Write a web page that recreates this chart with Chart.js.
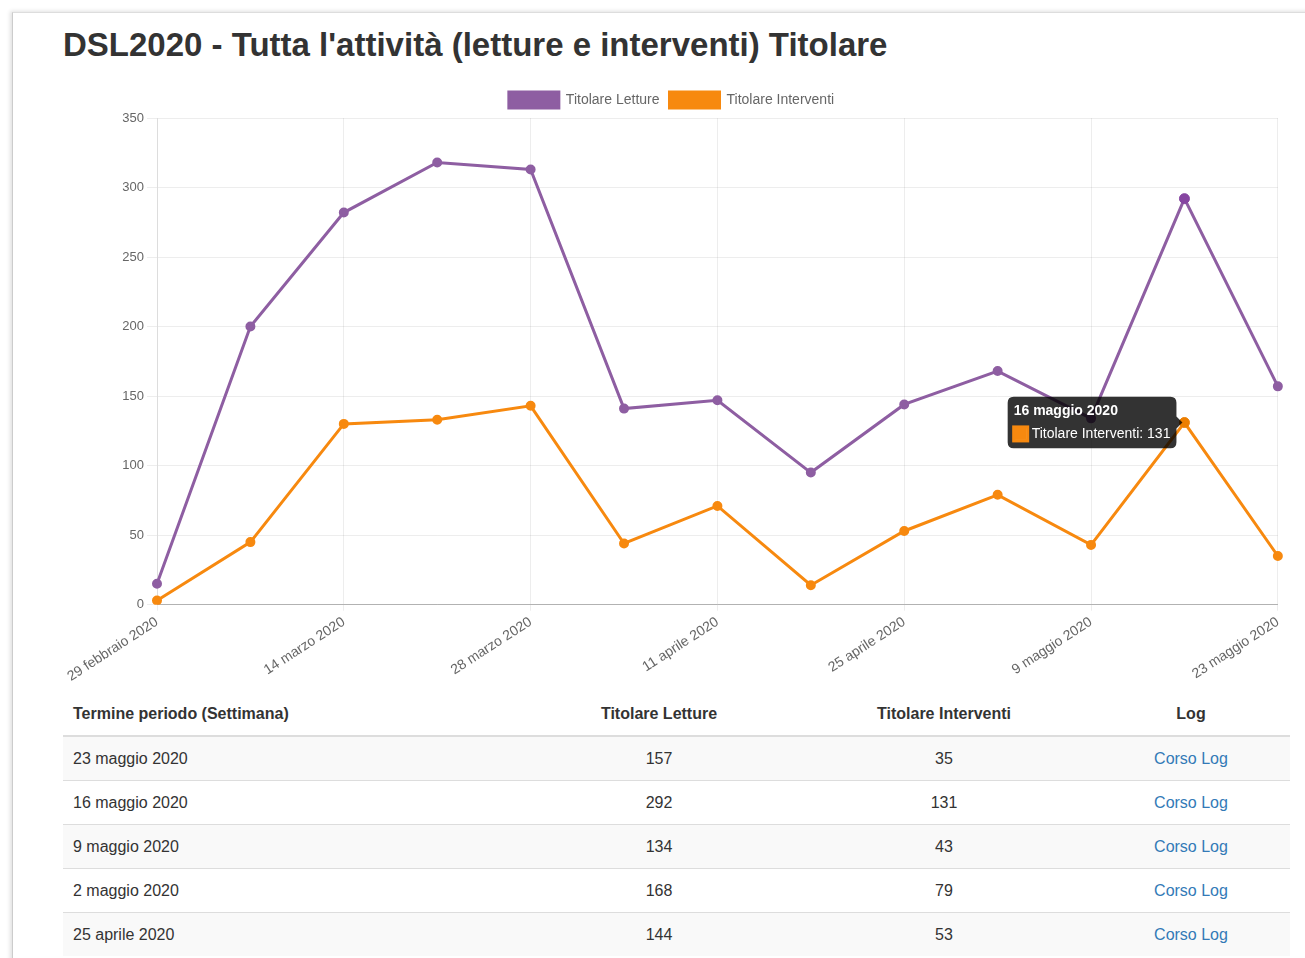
<!DOCTYPE html>
<html>
<head>
<meta charset="utf-8">
<script src="https://cdn.jsdelivr.net/npm/chart.js@4.4.0/dist/chart.umd.min.js"></script>
<style>
	body { margin: 0; background: #fff; font-family: "Liberation Sans", Arial, sans-serif; color: #333; }
	.panel { position: absolute; left: 12px; top: 12px; width: 1320px; height: 980px; border-left: 1px solid #ccc; border-top: 1px solid #ddd; box-shadow: -2px -1px 4px rgba(0,0,0,0.12); }
	h1 { position: absolute; left: 63px; top: 26px; margin: 0; font-size: 33px; font-weight: bold; color: #333; }
	.chart-box { position: absolute; left: 63px; top: 82px; width: 1227px; height: 606px; }
	table { position: absolute; left: 63px; top: 692px; width: 1227px; border-collapse: collapse; font-size: 16px; }
	th, td { padding: 0 10px; height: 43px; border-top: 1px solid #ddd; }
	th { border-top: none; border-bottom: 2px solid #ddd; font-weight: bold; }
	tbody tr:nth-child(odd) td { background: #f9f9f9; }
	a { color: #337ab7; text-decoration: none; }
</style>
</head>
<body>
<div class="panel"></div>
<h1>DSL2020 - Tutta l'attività (letture e interventi) Titolare</h1>
<div class="chart-box"><canvas id="activityChart"></canvas></div>
<table>
	<thead>
		<tr>
			<th style="width:439px;text-align:left">Termine periodo (Settimana)</th>
			<th style="width:254px;text-align:center">Titolare Letture</th>
			<th style="width:276px;text-align:center">Titolare Interventi</th>
			<th style="text-align:center">Log</th>
		</tr>
	</thead>
	<tbody id="tableBody"></tbody>
</table>
<script>
const weeks = [
	"29 febbraio 2020", "7 marzo 2020", "14 marzo 2020", "21 marzo 2020", "28 marzo 2020",
	"4 aprile 2020", "11 aprile 2020", "18 aprile 2020", "25 aprile 2020", "2 maggio 2020",
	"9 maggio 2020", "16 maggio 2020", "23 maggio 2020"
];
const letture = [15, 200, 282, 318, 313, 141, 147, 95, 144, 168, 134, 292, 157];
const interventi = [3, 45, 130, 133, 143, 44, 71, 14, 53, 79, 43, 131, 35];
const tableRows = 5;

const purple = "#8e5ea2";
const orange = "#f7890f";

window.addEventListener('DOMContentLoaded', (event) => {
	const tbody = document.getElementById("tableBody");
	for (let i = weeks.length - 1; i >= weeks.length - tableRows; i--) {
		const tr = document.createElement("tr");
		tr.innerHTML = `<td>${weeks[i]}</td><td style="text-align:center">${letture[i]}</td>` +
			`<td style="text-align:center">${interventi[i]}</td><td style="text-align:center"><a href="#">Corso Log</a></td>`;
		tbody.appendChild(tr);
	}

	Chart.defaults.font.family = "'Liberation Sans', Arial, sans-serif";
	Chart.defaults.color = "#666";

	const ctx = document.getElementById("activityChart");
	const chart = new Chart(ctx, {
		type: 'line',
		data: {
			labels: weeks,
			datasets: [{
				label: 'Titolare Letture',
				data: letture,
				borderColor: purple,
				backgroundColor: purple,
				borderWidth: 3,
				pointRadius: 3.5,
				pointHoverRadius: 5,
				tension: 0,
				fill: false
			}, {
				label: 'Titolare Interventi',
				data: interventi,
				borderColor: orange,
				backgroundColor: orange,
				borderWidth: 3,
				pointRadius: 3.5,
				pointHoverRadius: 5,
				tension: 0,
				fill: false
			}]
		},
		options: {
			responsive: true,
			maintainAspectRatio: false,
			animation: false,
			layout: { padding: { right: 10, left: 0 } },
			plugins: {
				legend: {
					labels: { boxWidth: 50, boxHeight: 16, font: { size: 14 }, padding: 10 }
				},
				tooltip: {
					backgroundColor: 'rgba(0,0,0,0.8)',
					titleFont: { size: 14, weight: 'bold' },
					bodyFont: { size: 14 },
					padding: 6,
					cornerRadius: 6,
					caretSize: 6,
					boxPadding: 2
				}
			},
			scales: {
				x: {
					grid: { color: 'rgba(0,0,0,0.07)', tickLength: 6 },
					border: { color: 'rgba(0,0,0,0.25)' },
					ticks: {
						autoSkip: false,
						maxRotation: 33,
						minRotation: 33,
						font: { size: 14 },
						callback: function (value, index) {
							return index % 2 === 0 ? this.getLabelForValue(value) : null;
						}
					}
				},
				y: {
					min: 0,
					max: 350,
					afterFit: (axis) => { axis.width = 94; },
					grid: { color: 'rgba(0,0,0,0.07)', tickLength: 10 },
					border: { color: 'rgba(0,0,0,0.07)' },
					ticks: { stepSize: 50, font: { size: 13 } }
				}
			}
		}
	});

	chart.setActiveElements([{ datasetIndex: 0, index: 11 }, { datasetIndex: 1, index: 11 }]);
	const pt = chart.getDatasetMeta(1).data[11];
	chart.tooltip.setActiveElements([{ datasetIndex: 1, index: 11 }], { x: pt.x, y: pt.y });
	chart.update();
});
</script>
</body>
</html>
